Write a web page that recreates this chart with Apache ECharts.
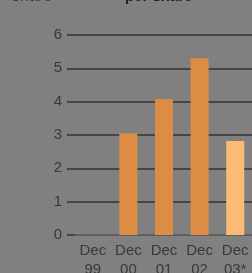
<!DOCTYPE html>
<html>
<head>
<meta charset="utf-8">
<script src="https://cdn.jsdelivr.net/npm/echarts@6/dist/echarts.min.js"></script>
<style>
  html, body { margin: 0; padding: 0; background: #808080; }
  #chart { width: 252px; height: 273px; }
</style>
</head>
<body>
<div id="chart"></div>
<script>
// values
const categories = ['Dec\n99', 'Dec\n00', 'Dec\n01', 'Dec\n02', 'Dec\n03*']
const values = [null, 3.05, 4.08, 5.3, 2.82]
const estimated = [false, false, false, false, true]
const yTicks = [0, 1, 2, 3, 4, 5, 6]

const BAR = '#dc8c45'
const BAR_EST = '#fdba76'
const TEXT = '#383838'

const chart = echarts.init(document.getElementById('chart'), null, { renderer: 'canvas' })

chart.setOption({
  backgroundColor: '#808080',
  animation: false,
  graphic: [{
    type: 'text',
    x: 12,
    y: -11,
    silent: true,
    style: { text: 'share', fontFamily: 'Liberation Sans', fontSize: 16, fill: TEXT }
  }, {
    type: 'text',
    x: 125,
    y: -11,
    silent: true,
    style: { text: 'per share', fontFamily: 'Liberation Sans', fontSize: 15, fontWeight: 'bold', fill: '#1e1e1e' }
  }],
  grid: { left: 75, top: 35, width: 178, height: 200, outerBoundsMode: 'none' },
  xAxis: {
    type: 'category',
    data: categories,
    axisLine: { show: false },
    axisTick: { show: false },
    axisLabel: {
      margin: 6,
      interval: 0,
      color: TEXT,
      fontFamily: 'Liberation Sans',
      fontSize: 15,
      lineHeight: 19
    }
  },
  yAxis: {
    type: 'value',
    min: yTicks[0],
    max: yTicks[yTicks.length - 1],
    interval: 1,
    axisLine: { show: false },
    axisTick: { show: true, length: 8, lineStyle: { color: '#333', width: 1.5 } },
    axisLabel: {
      margin: 13,
      color: TEXT,
      fontFamily: 'Liberation Sans',
      fontSize: 15
    },
    splitLine: {
      show: true,
      lineStyle: { color: ['#555', '#333', '#333', '#333', '#333', '#333', '#333'], width: 1.5 }
    }
  },
  series: [{
    type: 'bar',
    barWidth: 18,
    data: values.map((v, i) => ({
      value: v,
      itemStyle: { color: estimated[i] ? BAR_EST : BAR }
    }))
  }]
})
</script>
</body>
</html>
